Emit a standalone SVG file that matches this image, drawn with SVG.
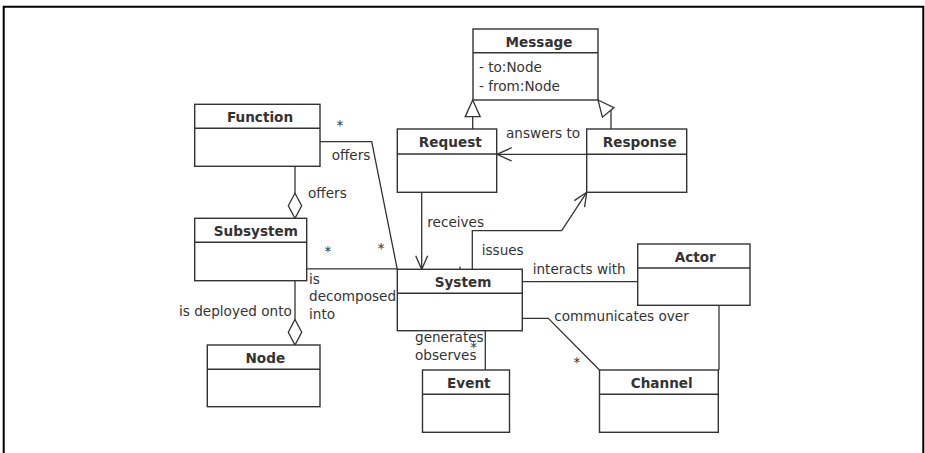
<svg xmlns="http://www.w3.org/2000/svg" width="925" height="453" viewBox="0 0 925 453">
<style>
.box{fill:#fff;stroke:#333;stroke-width:1.4}
.sep{stroke:#333;stroke-width:1.4}
.t{font-family:"DejaVu Sans",sans-serif;font-size:13.6px;fill:#333}
.h{font-weight:bold;text-anchor:middle}
.ln{fill:none;stroke:#333;stroke-width:1.3}
.tri{fill:#fff;stroke:#333;stroke-width:1.3}
</style>
<rect width="925" height="453" fill="#fff"/>
<path d="M3.7,460 V6.7 H923.3 V460" fill="none" stroke="#000" stroke-width="2"/>
<g id="connectors">
  <!-- Request generalization -->
  <path class="ln" d="M472.7,129 V116.7"/>
  <polygon class="tri" points="472.7,100 465.2,116.7 480.2,116.7"/>
  <!-- Response generalization -->
  <path class="ln" d="M611,129 V110.1"/>
  <polygon class="tri" points="598,100 614,107.6 602.4,117.2"/>
  <!-- answers to -->
  <path class="ln" d="M586.7,154.3 H497"/>
  <path class="ln" d="M511.7,147.7 L497,154.3 L511.7,161"/>
  <!-- receives -->
  <path class="ln" d="M421.7,192.3 V269.3"/>
  <path class="ln" d="M415.7,255.7 L421.7,269.3 L427.7,255.7"/>
  <!-- issues -->
  <path class="ln" d="M472.3,269.3 V230.7 H561.7 L586.7,192.3"/>
  <path class="ln" d="M574.3,200.6 L586.7,192.3 L584.6,207.1"/>
  <!-- Function offers -->
  <path class="ln" d="M320,141.7 H371.7 L397.3,269.3"/>
  <!-- Function-Subsystem -->
  <path class="ln" d="M295,166.3 V193.3"/>
  <polygon class="tri" points="295,193.3 301.7,205.8 295,218.3 288.3,205.8"/>
  <!-- Subsystem-System -->
  <path class="ln" d="M306.7,268.9 H397.3"/>
  <!-- Subsystem-Node -->
  <path class="ln" d="M295,280.7 V319.5"/>
  <polygon class="tri" points="295,319.5 301.7,332.2 295,345 288.3,332.2"/>
  <!-- System-Actor -->
  <path class="ln" d="M522.3,281.7 H637.7"/>
  <!-- System-Channel -->
  <path class="ln" d="M522.3,318.3 H548.3 L599.5,370"/>
  <!-- Actor-Channel -->
  <path class="ln" d="M719,305.3 V370"/>
  <!-- System-Event -->
  <path class="ln" d="M485.3,330.7 V370"/>
  <!-- small ticks -->
  <path class="ln" d="M460,266.5 V270"/>
  <path class="ln" d="M519.5,308.3 H521.5"/>
</g>
<g id="Message">
  <rect class="box" x="473" y="29" width="125" height="71"/>
  <line class="sep" x1="473" y1="52.7" x2="598" y2="52.7"/>
  <text class="t h" x="539" y="46.5">Message</text>
  <text class="t" x="479" y="72">- to:Node</text>
  <text class="t" x="479" y="90.5">- from:Node</text>
</g>
<g id="Request">
  <rect class="box" x="397.3" y="129" width="99.4" height="63.3"/>
  <line class="sep" x1="397.3" y1="154" x2="496.7" y2="154"/>
  <text class="t h" x="450.3" y="146.5">Request</text>
</g>
<g id="Response">
  <rect class="box" x="586.7" y="129" width="100" height="63.3"/>
  <line class="sep" x1="586.7" y1="154.3" x2="686.7" y2="154.3"/>
  <text class="t h" x="639.7" y="146.5">Response</text>
</g>
<g id="Function">
  <rect class="box" x="194.7" y="104.3" width="125.3" height="62"/>
  <line class="sep" x1="194.7" y1="128.3" x2="320" y2="128.3"/>
  <text class="t h" x="260" y="121.8">Function</text>
</g>
<g id="Subsystem">
  <rect class="box" x="194.7" y="218.3" width="112" height="62.4"/>
  <line class="sep" x1="194.7" y1="242.3" x2="306.7" y2="242.3"/>
  <text class="t h" x="255.8" y="235.8">Subsystem</text>
</g>
<g id="Node">
  <rect class="box" x="207.3" y="345" width="112.7" height="61.7"/>
  <line class="sep" x1="207.3" y1="369.3" x2="320" y2="369.3"/>
  <text class="t h" x="265.3" y="362.5">Node</text>
</g>
<g id="System">
  <rect class="box" x="397.3" y="269.3" width="125" height="61.4"/>
  <line class="sep" x1="397.3" y1="293.3" x2="522.3" y2="293.3"/>
  <text class="t h" x="463" y="286.8">System</text>
</g>
<g id="Event">
  <rect class="box" x="422.5" y="370" width="87" height="62.3"/>
  <line class="sep" x1="422.5" y1="394.3" x2="509.5" y2="394.3"/>
  <text class="t h" x="468.8" y="387.5">Event</text>
</g>
<g id="Actor">
  <rect class="box" x="637.7" y="244" width="112.3" height="61.3"/>
  <line class="sep" x1="637.7" y1="268" x2="750" y2="268"/>
  <text class="t h" x="695.2" y="261.5">Actor</text>
</g>
<g id="Channel">
  <rect class="box" x="599.5" y="370" width="118.8" height="62.3"/>
  <line class="sep" x1="599.5" y1="394.3" x2="718.3" y2="394.3"/>
  <text class="t h" x="661.7" y="387.5">Channel</text>
</g>
<g id="labels">
  <text class="t" x="506" y="138">answers to</text>
  <text class="t" x="336.5" y="130">*</text>
  <text class="t" x="331.7" y="159.5">offers</text>
  <text class="t" x="308" y="198">offers</text>
  <text class="t" x="324.5" y="255.5">*</text>
  <text class="t" x="377.8" y="253">*</text>
  <text class="t" x="309" y="284">is</text>
  <text class="t" x="309" y="301">decomposed</text>
  <text class="t" x="309" y="318.5">into</text>
  <text class="t" x="179" y="315.5">is deployed onto</text>
  <text class="t" x="427.3" y="227">receives</text>
  <text class="t" x="481.7" y="255">issues</text>
  <text class="t" x="532.7" y="274">interacts with</text>
  <text class="t" x="554.3" y="321">communicates over</text>
  <text class="t" x="573.5" y="367">*</text>
  <text class="t" x="415" y="342">generates</text>
  <text class="t" x="415" y="359.5">observes</text>
  <text class="t" x="470.2" y="352">*</text>
</g>
</svg>
